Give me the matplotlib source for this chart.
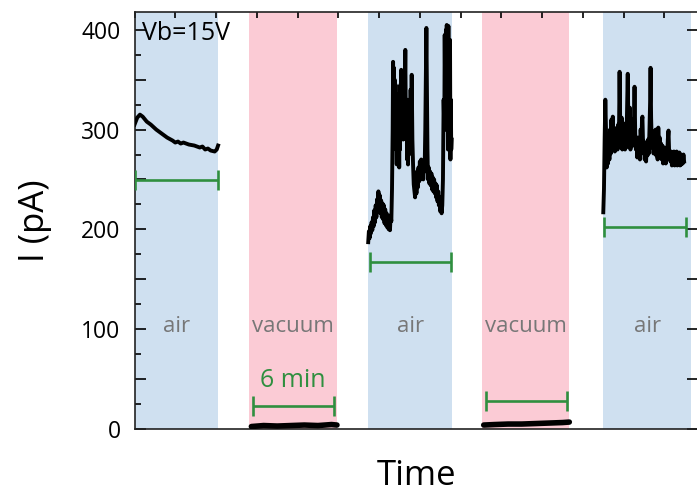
import matplotlib.pyplot as plt
from matplotlib.ticker import MultipleLocator, FuncFormatter

plt.rcParams['font.family'] = ['Open Sans', 'DejaVu Sans']

# shaded periods (minutes)
air_spans = [(0.0, 6.18), (17.2, 23.4), (34.5, 40.99)]
vac_spans = [(8.46, 14.9), (25.6, 32.0)]

# current traces, pA
air1_t = [0, 0.2, 0.4, 0.6, 0.9, 1.2, 1.6, 2.0, 2.4, 2.8, 3.0, 3.2, 3.4, 3.6,
          4.0, 4.4, 4.8, 5.0, 5.2, 5.4, 5.6, 5.9, 6.05, 6.15]
air1_i = [305, 312, 315, 313, 308, 305, 300, 296, 292, 289, 287, 288, 286, 287,
          285, 284, 282, 283, 280, 281, 279, 278, 280, 284]

vac1_t = [8.6, 9.5, 10.5, 11.5, 12.5, 13.5, 14.5, 14.9]
vac1_i = [2, 3, 2.5, 3, 3.5, 3, 4, 3.5]

air2_t = [17.2, 17.25, 17.3, 17.35, 17.4, 17.45, 17.5, 17.55, 17.6, 17.65,
          17.7, 17.75, 17.8, 17.85, 17.9, 17.95, 18.0, 18.05, 18.1, 18.15,
          18.2, 18.25, 18.3, 18.35, 18.4, 18.45, 18.5, 18.55, 18.6, 18.65,
          18.7, 18.75, 18.8, 18.85, 18.9, 18.95, 19.0, 19.03, 19.06, 19.09,
          19.12, 19.15, 19.18, 19.21, 19.24, 19.27, 19.3, 19.33, 19.36, 19.39,
          19.42, 19.45, 19.48, 19.51, 19.54, 19.57, 19.6, 19.63, 19.66, 19.7,
          19.74, 19.78, 19.82, 19.86, 19.9, 19.93, 19.96, 20.0, 20.03, 20.06,
          20.1, 20.13, 20.16, 20.2, 20.24, 20.28, 20.32, 20.36, 20.4, 20.45,
          20.5, 20.55, 20.6, 20.65, 20.7, 20.75, 20.8, 20.85, 20.9, 20.95,
          21.0, 21.05, 21.1, 21.15, 21.2, 21.25, 21.3, 21.35, 21.4, 21.45,
          21.48, 21.52, 21.56, 21.6, 21.65, 21.7, 21.75, 21.8, 21.85, 21.9,
          21.95, 22.0, 22.05, 22.1, 22.15, 22.2, 22.25, 22.3, 22.35, 22.4,
          22.45, 22.5, 22.55, 22.6, 22.65, 22.7, 22.75, 22.8, 22.83, 22.86,
          22.89, 22.92, 22.95, 22.98, 23.01, 23.04, 23.07, 23.1, 23.13, 23.16,
          23.19, 23.22, 23.25, 23.28, 23.31, 23.34]
air2_i = [187, 198, 191, 203, 196, 207, 199, 212, 203, 219,
          207, 224, 212, 230, 219, 238, 222, 234, 216, 229,
          212, 226, 210, 224, 206, 220, 204, 216, 202, 213,
          200, 211, 199, 214, 208, 240, 300, 368, 320, 362,
          290, 350, 300, 345, 280, 330, 265, 310, 275, 335,
          270, 300, 262, 315, 280, 345, 295, 360, 300, 350,
          330, 290, 340, 300, 350, 380, 320, 290, 330, 270,
          320, 265, 300, 275, 330, 285, 340, 300, 355, 290,
          265, 245, 238, 232, 250, 236, 258, 242, 262, 248,
          268, 250, 270, 254, 268, 250, 266, 258, 300, 360,
          402, 340, 280, 250, 262, 246, 258, 244, 256, 240,
          252, 238, 250, 236, 246, 232, 244, 228, 238, 224,
          232, 218, 226, 216, 224, 250, 330, 300, 395, 340,
          300, 400, 350, 405, 310, 395, 280, 404, 300, 380,
          290, 390, 270, 330, 280, 290]

vac2_t = [25.7, 26.5, 27.5, 28.5, 29.5, 30.5, 31.5, 32.0]
vac2_i = [3.5, 4, 4.5, 4.5, 5, 5.5, 6, 6.5]

air3_t = [34.5, 34.55, 34.6, 34.65, 34.7, 34.75, 34.8, 34.85, 34.9, 34.95, 35.0,
          35.05, 35.1, 35.15, 35.2, 35.25, 35.3, 35.35, 35.4, 35.45, 35.5, 35.55,
          35.6, 35.65, 35.7, 35.75, 35.8, 35.85, 35.9, 35.95, 36.0, 36.05, 36.1,
          36.15, 36.2, 36.25, 36.3, 36.35, 36.4, 36.45, 36.5, 36.55, 36.6, 36.65,
          36.7, 36.75, 36.8, 36.85, 36.9, 36.95, 37.0, 37.05, 37.1, 37.15, 37.2,
          37.25, 37.3, 37.35, 37.38, 37.42, 37.46, 37.5, 37.55, 37.6, 37.65,
          37.7, 37.75, 37.8, 37.85, 37.9, 37.95, 37.98, 38.02, 38.06, 38.1,
          38.15, 38.2, 38.25, 38.3, 38.35, 38.4, 38.45, 38.5, 38.55, 38.6,
          38.65, 38.7, 38.75, 38.8, 38.85, 38.9, 38.95, 39.0, 39.05, 39.1,
          39.15, 39.2, 39.25, 39.3, 39.35, 39.4, 39.45, 39.5, 39.55, 39.6,
          39.65, 39.7, 39.75, 39.8, 39.85, 39.9, 39.95, 40.0, 40.05, 40.1,
          40.15, 40.2, 40.25, 40.3, 40.35, 40.4, 40.45]
air3_i = [217, 240, 290, 330, 300, 262, 285, 266, 292, 270, 300,
          276, 310, 286, 313, 282, 300, 278, 296, 284, 302, 280,
          305, 288, 358, 300, 282, 312, 280, 300, 284, 306, 280,
          300, 282, 320, 356, 300, 286, 322, 280, 302, 286, 310,
          284, 300, 343, 296, 280, 288, 272, 292, 276, 286, 270,
          300, 282, 310, 313, 290, 276, 288, 270, 282, 268,
          286, 274, 290, 276, 300, 330, 362, 312, 290, 282,
          298, 276, 290, 280, 300, 274, 288, 270, 302, 280,
          292, 272, 286, 270, 284, 266, 282, 270, 280, 266,
          282, 272, 290, 299, 276, 270, 268, 278, 264, 274,
          266, 278, 264, 276, 266, 278, 264, 274, 266, 277,
          264, 275, 265, 274, 266, 275, 268]

# 6 min scale bars: start, end, level
bar_start = [0.05, 8.7, 17.35, 25.85, 34.55]
bar_end = [6.15, 14.65, 23.3, 31.8, 40.6]
bar_level = [249, 23, 167, 27.5, 202]

blue = '#cfe0f0'
pink = '#fbcbd5'
green = '#2f8f3f'

fig = plt.figure(figsize=(6.97, 4.92), dpi=100)
ax = fig.add_axes([0.193, 0.129, 0.809, 0.8466])

for a, b in air_spans:
    ax.axvspan(a, b, color=blue, lw=0, zorder=0)
    ax.text((a + b) / 2, 97, 'air', ha='center', va='baseline',
            fontsize=16, color='#777777')
for a, b in vac_spans:
    ax.axvspan(a, b, color=pink, lw=0, zorder=0)
    ax.text((a + b) / 2, 97, 'vacuum', ha='center', va='baseline',
            fontsize=16, color='#777777')

for t, i in [(air1_t, air1_i), (air2_t, air2_i), (air3_t, air3_i)]:
    ax.plot(t, i, color='black', lw=2.8, zorder=3, solid_joinstyle='round')
ax.plot(vac1_t, vac1_i, color='black', lw=4, zorder=3, solid_capstyle='round')
ax.plot(vac2_t, vac2_i, color='black', lw=4, zorder=3, solid_capstyle='round')

for s, e, lv in zip(bar_start, bar_end, bar_level):
    ax.errorbar((s + e) / 2, lv, xerr=(e - s) / 2, fmt='none', ecolor=green,
                elinewidth=1.9, capsize=7, capthick=1.9, zorder=4)

ax.text(11.65, 42, '6 min', ha='center', va='baseline', fontsize=18, color=green)
ax.text(0.55, 390, 'Vb=15V', ha='left', va='baseline', fontsize=18)

ax.set_xlim(0, 41.5)
ax.set_ylim(0, 418)

ax.yaxis.set_major_locator(MultipleLocator(50))
ax.yaxis.set_minor_locator(MultipleLocator(25))
ax.yaxis.set_major_formatter(FuncFormatter(lambda v, p: '%d' % v if v % 100 == 0 else ''))
ax.tick_params(axis='y', which='major', direction='in', length=8, width=1.2,
               labelsize=16.5, pad=10, right=True)
ax.tick_params(axis='y', which='minor', direction='in', length=4.5, width=1.2,
               right=False)
ax.xaxis.set_major_locator(MultipleLocator(3))
ax.tick_params(axis='x', which='major', direction='in', length=4, width=1.2,
               bottom=False, top=True, labelbottom=False)

for sp in ax.spines.values():
    sp.set_linewidth(1.2)
    sp.set_color('#222222')

ax.set_xlabel('Time', fontsize=25, labelpad=22)
ax.set_ylabel('I (pA)', fontsize=25, labelpad=21)

fig.savefig('out.png', dpi=100)
